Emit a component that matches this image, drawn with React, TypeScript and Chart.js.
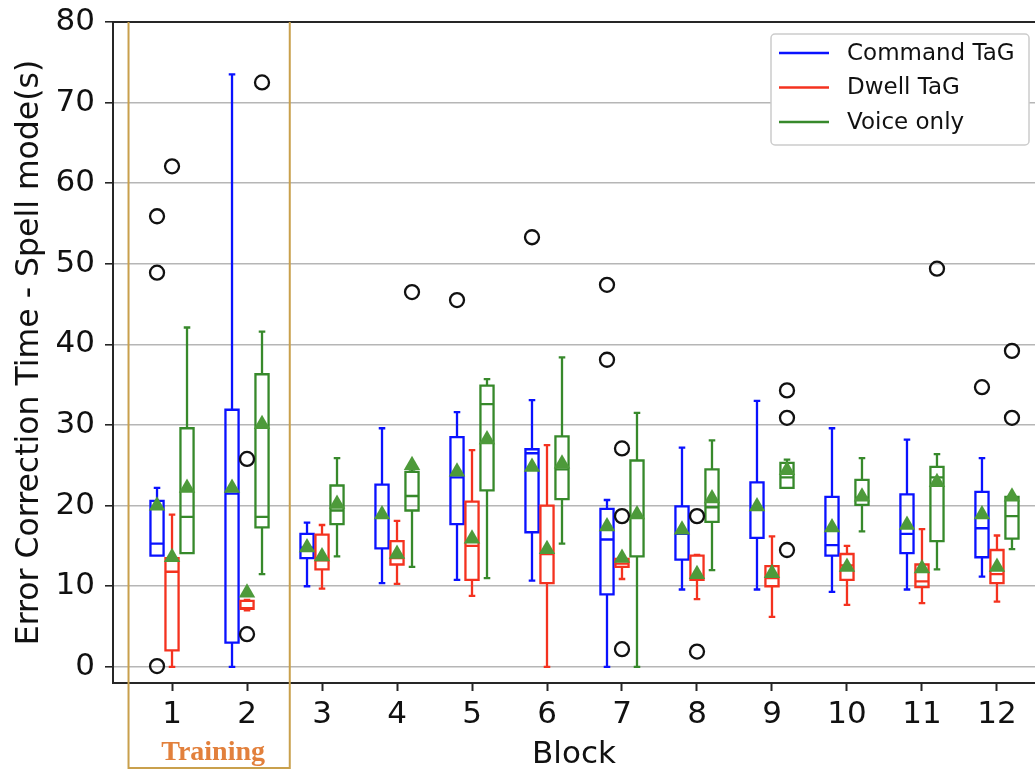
import React, { useEffect, useRef } from 'react';
import { Chart, registerables } from 'chart.js';

Chart.register(...registerables);

// ---------- data ----------
const blocks = [1, 2, 3, 4, 5, 6, 7, 8, 9, 10, 11, 12];
const yTickValues = [0, 10, 20, 30, 40, 50, 60, 70, 80];
const seriesNames = ['Command TaG', 'Dwell TaG', 'Voice only'];
const trainingRange = [0.42, 2.57];
const trainingLabel = 'Training';
const xTitle = 'Block';
const yTitle = 'Error Correction Time - Spell mode(s)';

// Command TaG
const commandLow = [13.8, 0, 10.0, 10.4, 10.8, 10.7, 0, 9.6, 9.6, 9.3, 9.6, 11.2];
const commandQ1 = [13.8, 3.0, 13.5, 14.7, 17.7, 16.7, 9.0, 13.3, 16.0, 13.8, 14.1, 13.6];
const commandMedian = [15.3, 21.5, 14.8, 18.5, 23.5, 26.5, 15.8, 16.5, 19.5, 15.1, 16.5, 17.2];
const commandQ3 = [20.6, 31.9, 16.5, 22.6, 28.5, 27.0, 19.6, 19.9, 22.9, 21.1, 21.4, 21.7];
const commandHigh = [22.2, 73.5, 17.9, 29.6, 31.6, 33.1, 20.7, 27.2, 33.0, 29.6, 28.2, 25.9];
const commandMean = [20.0, 22.2, 14.8, 18.9, 24.2, 24.8, 17.4, 17.0, 19.9, 17.3, 17.6, 18.9];
const commandOutliers = [[1, 0.1], [1, 48.9], [1, 55.9], [5, 45.5], [6, 53.3], [7, 47.4], [7, 38.1], [12, 34.7]];

// Dwell TaG
const dwellLow = [0, 7.0, 9.7, 10.3, 8.8, 0, 10.9, 8.4, 6.2, 7.7, 7.9, 8.1];
const dwellQ1 = [2.05, 7.2, 12.1, 12.7, 10.8, 10.4, 12.4, 10.8, 10.0, 10.8, 9.9, 10.4];
const dwellMedian = [11.8, 7.3, 13.2, 13.5, 15.0, 14.0, 12.8, 11.2, 11.0, 12.6, 10.6, 11.5];
const dwellQ3 = [13.5, 8.2, 16.4, 15.6, 20.5, 20.0, 13.4, 13.8, 12.5, 14.0, 12.7, 14.5];
const dwellHigh = [18.9, 8.3, 17.6, 18.1, 26.9, 27.5, 13.4, 13.9, 16.2, 15.0, 17.1, 16.3];
const dwellMean = [13.6, 9.2, 13.7, 14.0, 15.9, 14.6, 13.5, 11.5, 11.6, 12.4, 12.2, 12.4];
const dwellOutliers = [[1, 62.1], [2, 25.8], [2, 4.06], [7, 27.1], [7, 18.7], [7, 2.2], [8, 18.7], [8, 1.9]];

// Voice only
const voiceLow = [14.1, 11.5, 13.7, 12.4, 11.0, 15.3, 0, 12.0, 22.2, 16.8, 12.1, 14.6];
const voiceQ1 = [14.1, 17.3, 17.7, 19.4, 21.9, 20.8, 13.7, 18.0, 22.2, 20.1, 15.6, 15.9];
const voiceMedian = [18.6, 18.6, 19.4, 21.2, 32.6, 24.5, 18.5, 19.8, 23.5, 21.0, 23.5, 18.7];
const voiceQ3 = [29.6, 36.3, 22.5, 24.2, 34.9, 28.6, 25.6, 24.5, 25.3, 23.2, 24.8, 21.1];
const voiceHigh = [42.1, 41.6, 25.9, 24.5, 35.7, 38.4, 31.5, 28.1, 25.7, 25.9, 26.4, 21.3];
const voiceMean = [22.2, 30.1, 20.2, 25.0, 28.2, 25.2, 18.9, 20.9, 24.4, 21.1, 22.9, 21.1];
const voiceOutliers = [[2, 72.5], [4, 46.5], [9, 34.3], [9, 30.9], [9, 14.5], [11, 49.4], [12, 39.2], [12, 30.9]];

// ---------- style ----------
const seriesColors = ['#0a12ff', '#f4321f', '#37892b'];
const meanColor = '#4d9a3a';
const seriesOffsets = [-0.2, 0, 0.2];
const boxWidth = 0.175;
const FONT = '"DejaVu Sans", sans-serif';

const stats = [
  { low: commandLow, q1: commandQ1, med: commandMedian, q3: commandQ3, high: commandHigh, mean: commandMean, out: commandOutliers },
  { low: dwellLow, q1: dwellQ1, med: dwellMedian, q3: dwellQ3, high: dwellHigh, mean: dwellMean, out: dwellOutliers },
  { low: voiceLow, q1: voiceQ1, med: voiceMedian, q3: voiceQ3, high: voiceHigh, mean: voiceMean, out: voiceOutliers },
];

const boxPlugin = {
  id: 'boxes',
  beforeDatasetsDraw(chart: any) {
    const { ctx } = chart;
    const x = chart.scales.x;
    const y = chart.scales.y;
    const half = (x.getPixelForValue(boxWidth) - x.getPixelForValue(0)) / 2;
    ctx.save();
    ctx.lineWidth = 2.3;
    ctx.lineCap = 'butt';
    stats.forEach((s, si) => {
      ctx.strokeStyle = seriesColors[si];
      blocks.forEach((b, i) => {
        const cx = x.getPixelForValue(b + seriesOffsets[si]);
        const yl = y.getPixelForValue(s.low[i]);
        const y1 = y.getPixelForValue(s.q1[i]);
        const ym = y.getPixelForValue(s.med[i]);
        const y3 = y.getPixelForValue(s.q3[i]);
        const yh = y.getPixelForValue(s.high[i]);
        ctx.beginPath();
        ctx.rect(cx - half, y3, 2 * half, y1 - y3);
        ctx.moveTo(cx - half, ym);
        ctx.lineTo(cx + half, ym);
        ctx.moveTo(cx, y3);
        ctx.lineTo(cx, yh);
        ctx.moveTo(cx - half / 2, yh);
        ctx.lineTo(cx + half / 2, yh);
        ctx.moveTo(cx, y1);
        ctx.lineTo(cx, yl);
        ctx.moveTo(cx - half / 2, yl);
        ctx.lineTo(cx + half / 2, yl);
        ctx.stroke();
      });
    });
    ctx.restore();
  },
};

const decorPlugin = {
  id: 'decor',
  afterDraw(chart: any) {
    const { ctx, chartArea } = chart;
    const x = chart.scales.x;
    ctx.save();
    // top spine
    ctx.strokeStyle = '#262626';
    ctx.lineWidth = 2;
    ctx.beginPath();
    ctx.moveTo(chartArea.left - 1, chartArea.top);
    ctx.lineTo(chartArea.right, chartArea.top);
    ctx.stroke();

    // training frame
    const tl = x.getPixelForValue(trainingRange[0]);
    const tr = x.getPixelForValue(trainingRange[1]);
    const bottom = chart.height - 3;
    ctx.strokeStyle = '#c9a04c';
    ctx.lineWidth = 2;
    ctx.beginPath();
    ctx.moveTo(tl, chartArea.top);
    ctx.lineTo(tl, bottom);
    ctx.lineTo(tr, bottom);
    ctx.lineTo(tr, chartArea.top);
    ctx.stroke();
    ctx.fillStyle = '#e2803c';
    ctx.font = 'bold 28px "Liberation Serif", serif';
    ctx.textAlign = 'center';
    ctx.textBaseline = 'middle';
    ctx.fillText(trainingLabel, (tl + tr) / 2 + 4, chart.height - 18);

    // legend
    const lx = chartArea.right - 264;
    const ly = chartArea.top + 12;
    const lw = 258;
    const lh = 111;
    ctx.fillStyle = '#ffffff';
    ctx.strokeStyle = '#cccccc';
    ctx.lineWidth = 1.5;
    ctx.beginPath();
    if (ctx.roundRect) ctx.roundRect(lx, ly, lw, lh, 4); else ctx.rect(lx, ly, lw, lh);
    ctx.fill();
    ctx.stroke();
    ctx.font = `23px ${FONT}`;
    ctx.textAlign = 'left';
    ctx.textBaseline = 'middle';
    seriesNames.forEach((name, i) => {
      const ry = ly + 19 + i * 34.5;
      ctx.strokeStyle = seriesColors[i];
      ctx.lineWidth = 2.5;
      ctx.beginPath();
      ctx.moveTo(lx + 8, ry);
      ctx.lineTo(lx + 58, ry);
      ctx.stroke();
      ctx.fillStyle = '#111111';
      ctx.fillText(name, lx + 76, ry + 1);
    });
    ctx.restore();
  },
};

export default function App() {
  const ref = useRef<HTMLCanvasElement | null>(null);

  useEffect(() => {
    if (!ref.current) return;
    const datasets: any[] = [];
    stats.forEach((s, si) => {
      datasets.push({
        label: seriesNames[si] + ' mean',
        data: blocks.map((b, i) => ({ x: b + seriesOffsets[si], y: s.mean[i] })),
        pointStyle: 'triangle',
        pointRadius: 9.5,
        backgroundColor: meanColor,
        borderColor: meanColor,
        borderWidth: 0,
        showLine: false,
        clip: false,
      });
    });
    stats.forEach((s, si) => {
      datasets.push({
        label: seriesNames[si] + ' outliers',
        data: s.out.map(([b, v]) => ({ x: b + seriesOffsets[si], y: v })),
        pointStyle: 'circle',
        pointRadius: 7,
        backgroundColor: 'rgba(0,0,0,0)',
        borderColor: '#111111',
        borderWidth: 2.3,
        showLine: false,
        clip: false,
      });
    });

    const chart = new Chart(ref.current, {
      type: 'scatter',
      data: { datasets },
      plugins: [boxPlugin, decorPlugin],
      options: {
        animation: false,
        responsive: false,
        devicePixelRatio: 1,
        events: [],
        layout: { autoPadding: false, padding: { top: 22, right: 0, left: 0, bottom: 0 } },
        plugins: { legend: { display: false }, tooltip: { enabled: false } },
        scales: {
          x: {
            type: 'linear',
            min: 0.213,
            max: 12.507,
            afterBuildTicks: (axis: any) => {
              axis.ticks = blocks.map((v) => ({ value: v }));
            },
            afterFit: (scale: any) => {
              scale.height = 88;
              scale.paddingLeft = 0;
              scale.paddingRight = 0;
              scale.paddingTop = 0;
              scale.paddingBottom = 0;
            },
            ticks: {
              font: { family: FONT, size: 31 },
              color: '#111111',
              padding: 5,
              maxRotation: 0,
              autoSkip: false,
              callback: (v: any) => String(v),
            },
            grid: {
              drawOnChartArea: false,
              drawTicks: true,
              tickLength: 8,
              tickColor: '#262626',
              tickWidth: 2,
            },
            border: { display: true, color: '#262626', width: 2 },
            title: {
              display: true,
              text: xTitle,
              font: { family: FONT, size: 31 },
              color: '#111111',
              padding: { top: 0, bottom: -3 },
            },
          },
          y: {
            type: 'linear',
            min: -2,
            max: 80,
            afterBuildTicks: (axis: any) => {
              axis.ticks = yTickValues.map((v) => ({ value: v }));
            },
            afterFit: (scale: any) => {
              scale.width = 113;
              scale.paddingLeft = 0;
              scale.paddingRight = 0;
              scale.paddingTop = 0;
              scale.paddingBottom = 0;
            },
            ticks: {
              font: { family: FONT, size: 31 },
              color: '#111111',
              padding: 10,
              callback: (v: any) => String(v),
            },
            grid: {
              color: '#b6b6b6',
              lineWidth: 1.6,
              drawTicks: true,
              tickLength: 8,
              tickColor: '#262626',
              tickWidth: 1.6,
            },
            border: { display: true, color: '#262626', width: 2 },
            title: {
              display: true,
              text: yTitle,
              font: { family: FONT, size: 31.5 },
              color: '#111111',
              padding: { top: 11, bottom: 0 },
            },
          },
        },
      },
    });
    return () => chart.destroy();
  }, []);

  return (
    <div style={{ position: 'fixed', left: 0, top: 0, width: 1035, height: 771, background: '#ffffff', overflow: 'hidden' }}>
      <canvas ref={ref} width={1035} height={771} />
    </div>
  );
}
